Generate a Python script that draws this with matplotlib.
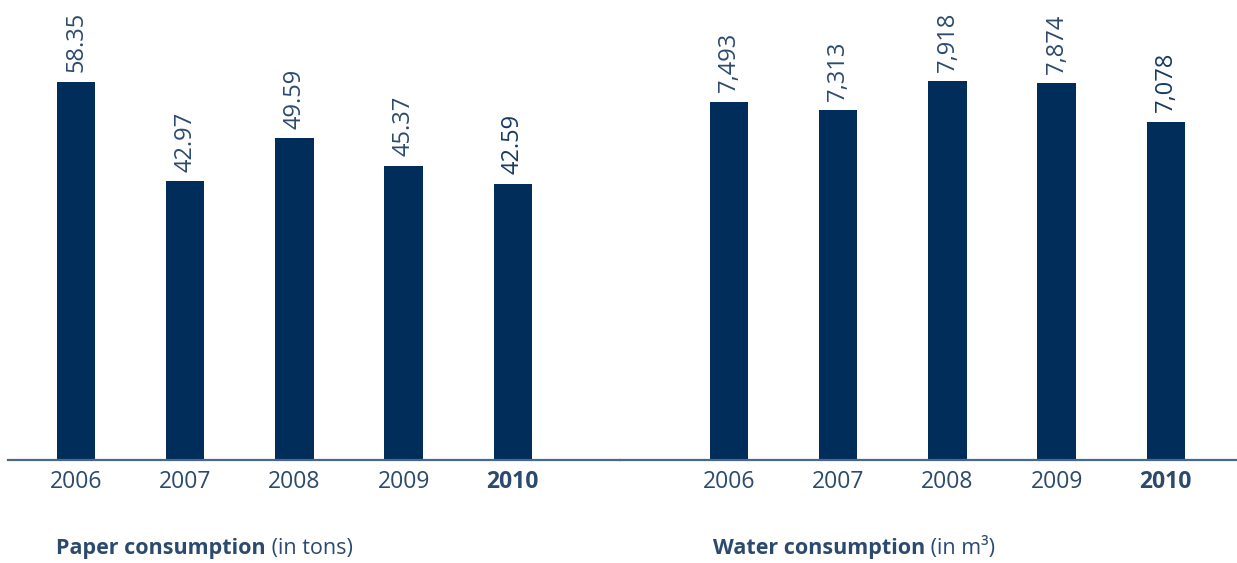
"""Paper and water consumption 2006-2010, two bar panels on a shared baseline."""
import matplotlib
matplotlib.use("Agg")
import matplotlib.pyplot as plt

BAR = "#002d5a"
TXT = "#2b4a6e"
LINE = "#4a6888"

plt.rcParams["font.family"] = ["Open Sans", "DejaVu Sans"]

years = ["2006", "2007", "2008", "2009", "2010"]
paper = [58.35, 42.97, 49.59, 45.37, 42.59]
water = [7493, 7313, 7918, 7874, 7078]

W, H = 1237, 563
fig = plt.figure(figsize=(W / 100, H / 100), dpi=100)

base = (H - 460) / H
top = 1.0
# left panel from x=8 to 620 px, right panel 620 to 1237 px
ax1 = fig.add_axes([8 / W, base, (620 - 8) / W, top - base])
ax2 = fig.add_axes([620 / W, base, (W - 620) / W, top - base])

step = 109.2
panels = [
    (ax1, paper, [f"{v:.2f}" for v in paper], (-(76 - 8) / step, (620 - 76) / step), 70.95),
    (ax2, water, [f"{v:,}" for v in water], (-(729 - 620) / step, (W - 729) / step), 9620),
]

for ax, vals, labels, xl, ytop in panels:
    x = list(range(len(vals)))
    bars = ax.bar(x, vals, width=0.35, color=BAR)
    ax.set_xlim(*xl)
    ax.set_ylim(0, ytop)
    for i, (b, lab) in enumerate(zip(bars, labels)):
        last = i == len(vals) - 1
        ax.annotate(lab, (b.get_x() + b.get_width() / 2, b.get_height()),
                    xytext=(0, 7), textcoords="offset points",
                    rotation=90, ha="center", va="bottom",
                    fontsize=17, color="#173a62" if last else TXT)
    ax.set_xticks(x)
    ax.set_xticklabels(years, fontsize=16.5, color=TXT)
    ax.get_xticklabels()[-1].set_fontweight("bold")
    ax.tick_params(axis="x", length=0, pad=7)
    ax.set_yticks([])
    for s in ("top", "left", "right"):
        ax.spines[s].set_visible(False)
    ax.spines["bottom"].set_color(LINE)
    ax.spines["bottom"].set_linewidth(1.6)

# panel titles: bold name + regular unit
ybl = 9 / H
for x0, name, unit in [(56, "Paper consumption", " (in tons)"),
                       (713, "Water consumption", " (in m³)")]:
    t = fig.text(x0 / W, ybl, name, fontsize=15.5, fontweight="bold",
                 color=TXT, va="baseline")
    plt.annotate(unit, xy=(1, ybl), xycoords=(t, "figure fraction"),
                 fontsize=15.5, color=TXT, va="baseline", ha="left")

fig.savefig("out.png", dpi=100)
